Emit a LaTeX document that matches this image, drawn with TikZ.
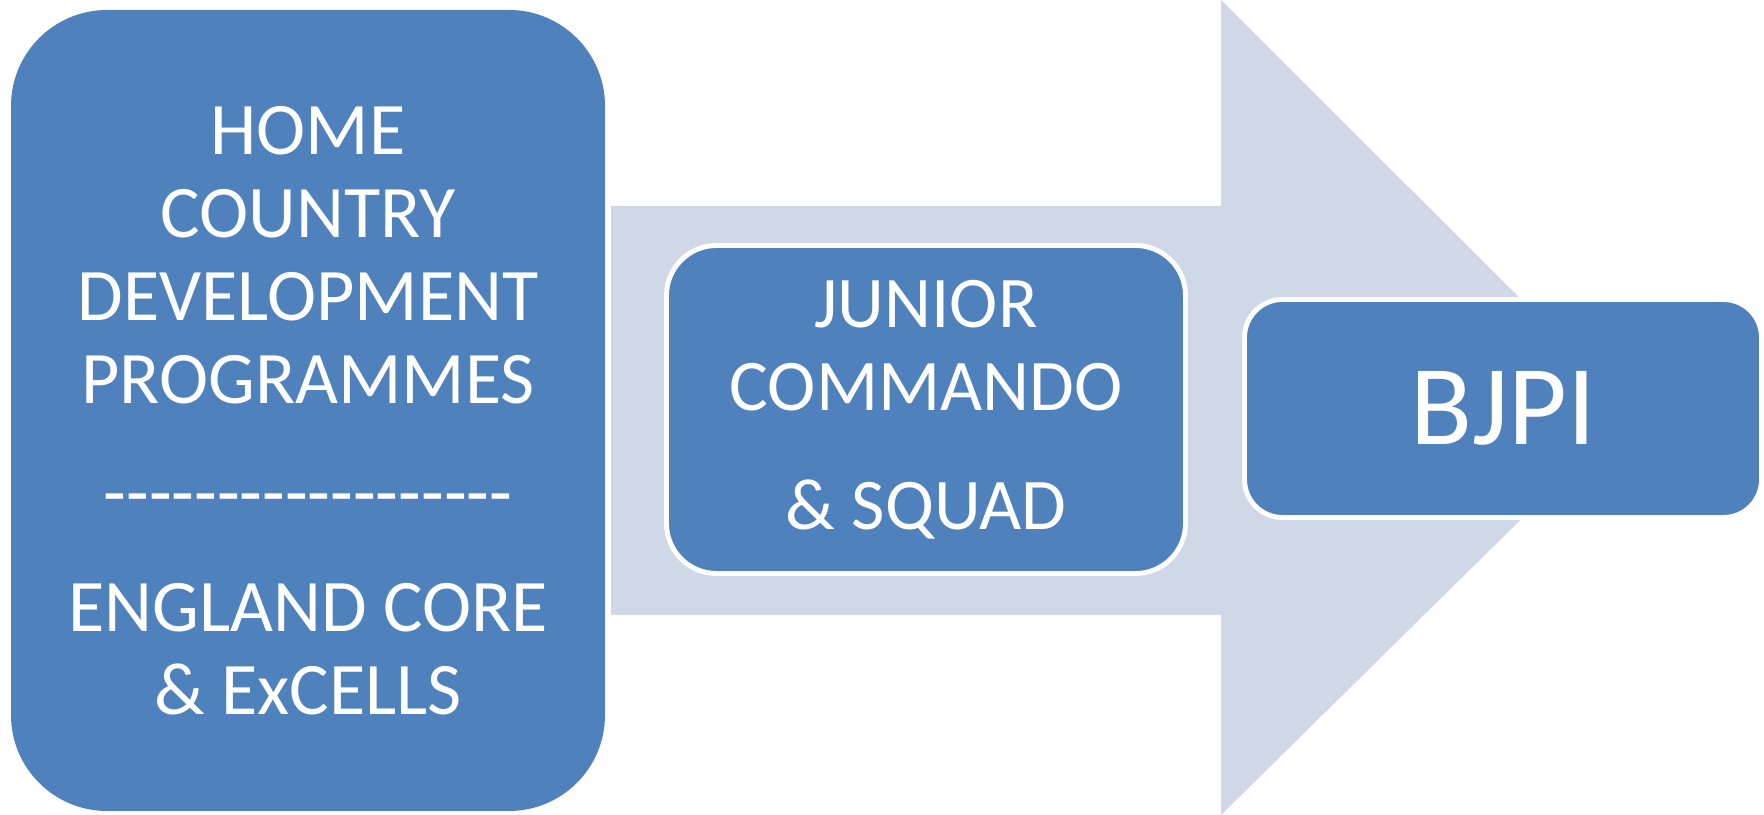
\documentclass[tikz,border=0pt]{standalone}
\usepackage{fontspec}
\setmainfont{Carlito}[Ligatures=TeXOff]
\usetikzlibrary{positioning}
\definecolor{stage blue}{HTML}{4F81BD}
\definecolor{arrow grey}{HTML}{D0D8E8}
\tikzset{
    stage box/.style={
        fill=stage blue, text=white,
        align=center, inner sep=0pt,
        font=\fontsize{20.7}{23.6}\selectfont
    },
    inner stage/.style={stage box, draw=white, line width=1.4pt},
}

\begin{document}
\begin{tikzpicture}
    \useasboundingbox (0,0) rectangle (17.64,8.15);
    % big arrow behind the stages
    \fill[arrow grey] (6.11,2.00) -- (12.21,2.00) -- (12.21,0) -- (16.32,4.05)
        -- (12.21,8.15) -- (12.21,6.09) -- (6.11,6.09) -- cycle;
    \node[stage box, minimum width=5.94cm, minimum height=8.01cm,
          rounded corners=0.96cm, font=\fontsize{21.1}{23.6}\selectfont]
        (home) at (3.08,4.045)
        {HOME\\COUNTRY\\DEVELOPMENT\\PROGRAMMES\\[0.31cm]
         ------------------\\[0.31cm]ENGLAND CORE\\\& ExCELLS};
    \node[inner stage, minimum width=5.19cm, minimum height=3.28cm,
          rounded corners=0.5cm] (junior) at (9.26,4.055)
        {JUNIOR\\COMMANDO\\[0.36cm]\& SQUAD};
    \node[inner stage, minimum width=5.17cm, minimum height=2.18cm,
          rounded corners=0.38cm, font=\fontsize{32.4}{36}\selectfont]
        (bjpi) at (15.03,4.065) {BJPI};
\end{tikzpicture}
\end{document}
